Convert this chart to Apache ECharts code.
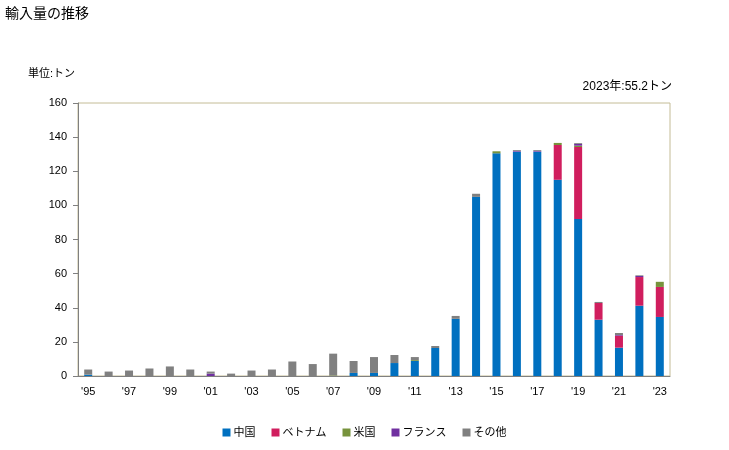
<!DOCTYPE html>
<html><head><meta charset="utf-8">
<script src="https://cdn.jsdelivr.net/npm/echarts@6/dist/echarts.min.js"></script>
<style>html,body{margin:0;padding:0;background:#fff}#c{width:729px;height:450px}</style>
</head><body><div id="c"></div>
<script>
const categories = ["'95","'96","'97","'98","'99","'00","'01","'02","'03","'04","'05","'06","'07","'08","'09","'10","'11","'12","'13","'14","'15","'16","'17","'18","'19","'20","'21","'22","'23"];
const china   = [0.8,0,0,0,0,0,0,0,0,0,0,0,0,1.8,1.8,7.6,8.8,16.4,33.5,105,130.5,131.5,131.5,115,92,33,16.6,41.2,34.6];
const vietnam = [0,0,0,0,0,0,0,0,0,0,0,0,0,0,0,0,0,0,0,0,0,0,0,20.4,42.2,9.8,7,16.8,17.6];
const usa     = [0,0,0,0,0,0,0,0,0,0,0,0,0.3,0,0,0,0.5,0,0,0,1.2,0,0,1.2,0.8,0,0,0,3.0];
const france  = [0,0,0,0,0,0,1.4,0,0,0,0,0,0,0,0,0,0,0,0,0,0,0.4,0.4,0,1.0,0,0.4,0.6,0];
const other   = [3.0,2.6,3.2,4.4,5.6,3.8,1.2,1.4,3.2,3.8,8.5,7.0,12.8,7.0,9.3,4.7,1.8,1.2,1.7,1.8,0,0.5,0.5,0,0.5,0.6,1.2,0.4,0];
const seriesNames = ['中国','ベトナム','米国','フランス','その他'];
const colors = ['#0070c0','#d01e5e','#77933c','#7030a0','#808080'];
const yTicks = [0,20,40,60,80,100,120,140,160];

const FONT = '"Liberation Sans", "Noto Sans CJK JP", sans-serif';
const chart = echarts.init(document.getElementById('c'), null, {renderer:'canvas'});
const dataSets = [china, vietnam, usa, france, other];
chart.setOption({
  animation:false,
  textStyle:{fontFamily:FONT},
  title:[
    {text:'輸入量の推移', left:0, top:2, textStyle:{fontSize:14, fontWeight:'normal', color:'#000', fontFamily:FONT}},
    {text:'単位:トン', left:23, top:63, textStyle:{fontSize:11, fontWeight:'normal', color:'#000', fontFamily:FONT}},
    {text:'2023年:55.2トン', right:52, top:76, textStyle:{fontSize:12, fontWeight:'normal', color:'#000', fontFamily:FONT}}
  ],
  legend:{
    bottom:7, left:'center', itemWidth:8, itemHeight:8, itemGap:16, icon:'rect',
    textStyle:{fontSize:11, color:'#000', fontFamily:FONT, padding:[0,0,0,-2]},
    data:seriesNames
  },
  grid:{left:78, right:59, top:103, bottom:74, show:true, borderColor:'#c4bc96', borderWidth:1, backgroundColor:'transparent'},
  xAxis:{
    type:'category', data:categories,
    axisLine:{lineStyle:{color:'#808080', width:1}},
    axisTick:{show:false},
    axisLabel:{interval:1, color:'#000', fontSize:11, margin:10, fontFamily:FONT}
  },
  yAxis:{
    type:'value', min:0, max:160, interval:20,
    axisLine:{show:true, lineStyle:{color:'#808080'}},
    axisTick:{show:true, inside:false, length:5, lineStyle:{color:'#808080'}},
    splitLine:{show:false},
    axisLabel:{color:'#000', fontSize:11, margin:11, fontFamily:FONT,
      formatter:function(v){return yTicks.indexOf(v)>=0 ? String(v) : '';}}
  },
  series: seriesNames.map((n,i)=>({
    name:n, type:'bar', stack:'total', data:dataSets[i], barWidth:8,
    itemStyle:{color:colors[i]}
  }))
});
</script></body></html>
